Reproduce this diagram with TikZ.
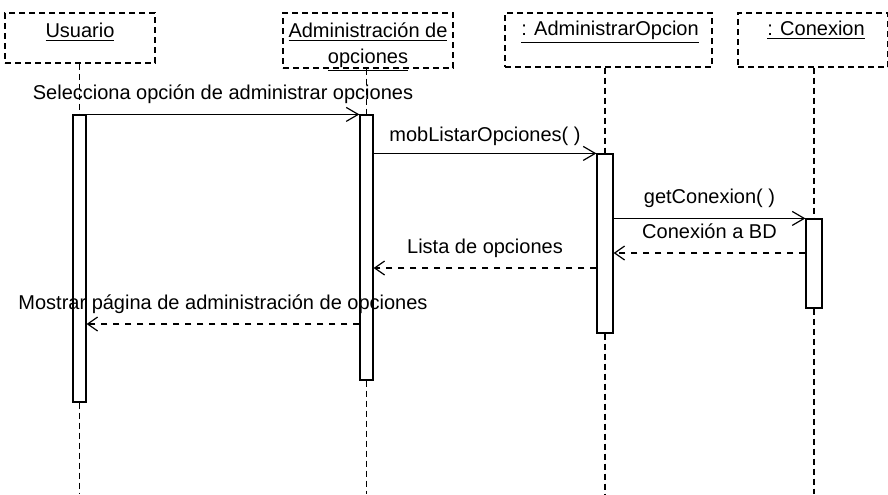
\documentclass[tikz,border=0pt]{standalone}
\usepackage{fontspec}
\setmainfont{Liberation Sans}
\usetikzlibrary{arrows.meta}

\begin{document}
\begin{tikzpicture}[x=0.5pt,y=-0.5pt,font=\fontsize{10}{12}\selectfont]
	    \tikzstyle{obj}=[draw,densely dashed,line width=0.6pt,inner sep=0pt]
	    \tikzstyle{bar}=[draw,fill=white,line width=0.6pt,inner sep=0pt,minimum width=6.5pt]
	    \tikzstyle{life}=[densely dashed,line width=0.6pt]
	    \tikzstyle{call}=[line width=0.6pt,-{Straight Barb[length=6pt,width=7pt]}]
	    \tikzstyle{ret}=[dashed,line width=0.6pt,-{Straight Barb[length=5pt,width=7pt]}]
	    \tikzstyle{lbl}=[anchor=base,yshift=7.5pt]

	    \useasboundingbox (0,0) rectangle (888,494);
	    \fill[white] (0,0) rectangle (888,494);

	    \node[obj,minimum width=75pt,minimum height=25pt](usr) at (80,38){};
	    \node[obj,minimum width=85pt,minimum height=27.5pt](adm) at (368,40.5){};
	    \node[obj,minimum width=103.5pt,minimum height=27pt](ao) at (608.5,40){};
	    \node[obj,minimum width=75pt,minimum height=27pt](cx) at (813,40){};

	    \node[anchor=base](usrt) at (80,37){\underline{Usuario}};
	    \node[anchor=base](admt1) at (368,37){\underline{Administración de}};
	    \node[anchor=base](admt2) at (368,63){\underline{opciones}};
	    \node[anchor=base](aot) at (610,35){\underline{: AdministrarOpcion}};
	    \node[anchor=base](cxt) at (816,35){\underline{: Conexion}};

	    \coordinate (bot) at (0,494);

	    \node[bar,minimum height=143.5pt](ub) at (79.5,258.5){};
	    \node[bar,minimum height=132.5pt](ab) at (366.5,247.5){};
	    \node[bar,minimum width=8pt,minimum height=89.5pt](aob) at (605,243.5){};
	    \node[bar,minimum width=8pt,minimum height=44.5pt](cb) at (814,263.5){};

	    \draw[life] (ub |- usr.south) -- (ub.north);
	    \draw[life] (ub.south) -- (ub |- bot);
	    \draw[life] (ab |- adm.south) -- (ab.north);
	    \draw[life] (ab.south) -- (ab |- bot);
	    \draw[life] (aob |- ao.south) -- (aob.north);
	    \draw[life] (aob.south) -- (aob |- bot);
	    \draw[life] (cb |- cx.south) -- (cb.north);
	    \draw[life] (cb.south) -- (cb |- bot);

	    \coordinate (r1) at (0,253);
	    \coordinate (r2) at (0,268);
	    \coordinate (r3) at (0,324);

	    \draw[call] (ub.north east) -- node[lbl](m1){Selecciona opción de administrar opciones} (ab.north west);
	    \draw[call] (ab.east |- aob.north) -- node[lbl,yshift=-1.5pt](m2){mobListarOpciones( )} (aob.north west);
	    \draw[call] (aob.east |- cb.north) -- node[lbl](m3){getConexion( )} (cb.north west);
	    \draw[ret] (cb.west |- r1) -- node[lbl](m4){Conexión a BD} (aob.east |- r1);
	    \draw[ret] (aob.west |- r2) -- node[lbl](m5){Lista de opciones} (ab.east |- r2);
	    \draw[ret] (ab.west |- r3) -- node[lbl](m6){Mostrar página de administración de opciones} (ub.east |- r3);
\end{tikzpicture}
\end{document}
